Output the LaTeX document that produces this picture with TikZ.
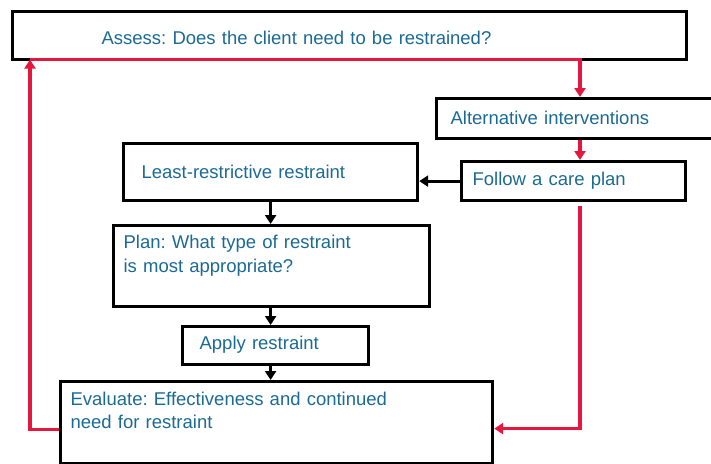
\documentclass[tikz,border=0pt]{standalone}
\usepackage{fontspec}
\setmainfont{Liberation Sans}
\usepackage{xcolor}
\usetikzlibrary{positioning, arrows.meta, calc}
\definecolor{txtblue}{HTML}{1B6A94}
\definecolor{loopred}{HTML}{E4173E}
\frenchspacing

\begin{document}
\begin{tikzpicture}[
    x=1pt, y=-1pt,
    box/.style={draw, line width=3.2pt, anchor=north west, inner ysep=0pt, align=left, text=txtblue, font=\fontsize{18.5}{24}\selectfont},
    blkarrow/.style={line width=3pt, -{Triangle[length=9pt, width=11pt]}},
    redarrow/.style={draw=loopred, line width=3.4pt, -{Triangle[length=9pt, width=11pt]}}
]
    \useasboundingbox (0,0) rectangle (711,463);

    % Boxes
    \node[box, inner xsep=89pt, text width=496pt, text height=33pt, text depth=15pt] (assess) at (11,10) {Assess: Does the client need to be restrained?};
    \node[box, inner xsep=14pt, text width=262pt, text height=26pt, text depth=14pt] (alt) at (435,97) {Alternative interventions};
    \node[box, inner xsep=18pt, text width=258pt, text height=35pt, text depth=22pt] (least) at (122,142) {Least-restrictive restraint};
    \node[box, inner xsep=11pt, text width=202pt, text height=24pt, text depth=15pt] (follow) at (460,160) {Follow a care plan};
    \node[box, inner xsep=10pt, text width=296pt, text height=23pt, text depth=58pt] (plan) at (112,224) {Plan: What type of restraint\\is most appropriate?};
    \node[box, inner xsep=17pt, text width=152pt, text height=23pt, text depth=15pt] (apply) at (181,325) {Apply restraint};
    \node[box, inner xsep=10pt, text width=412pt, text height=24pt, text depth=58pt, font=\fontsize{18.5}{23}\selectfont] (eval) at (59,380) {Evaluate: Effectiveness and continued\\need for restraint};

    % Loop columns
    \coordinate (lx) at (30,0);
    \coordinate (rx) at (580,0);

    % Connections
    \draw[blkarrow] (follow.west) -- (follow.west -| least.east);
    \draw[blkarrow] (least.south) -- (least.south |- plan.north);
    \draw[blkarrow] (plan.south -| least.south) -- (apply.north -| least.south);
    \draw[blkarrow] (apply.south -| least.south) -- (eval.north -| least.south);

    \draw[redarrow] ([yshift=1.6pt]assess.south -| lx) -- ([yshift=1.6pt]assess.south -| rx) -- (alt.north -| rx);
    \draw[redarrow] (alt.south -| rx) -- (follow.north -| rx);
    \draw[redarrow] ([yshift=-4pt]follow.south -| rx) |- ([yshift=-6pt]eval.east);
    \draw[redarrow] ([yshift=-7pt]eval.west) -| ([yshift=1.6pt]assess.south -| lx);
\end{tikzpicture}
\end{document}
